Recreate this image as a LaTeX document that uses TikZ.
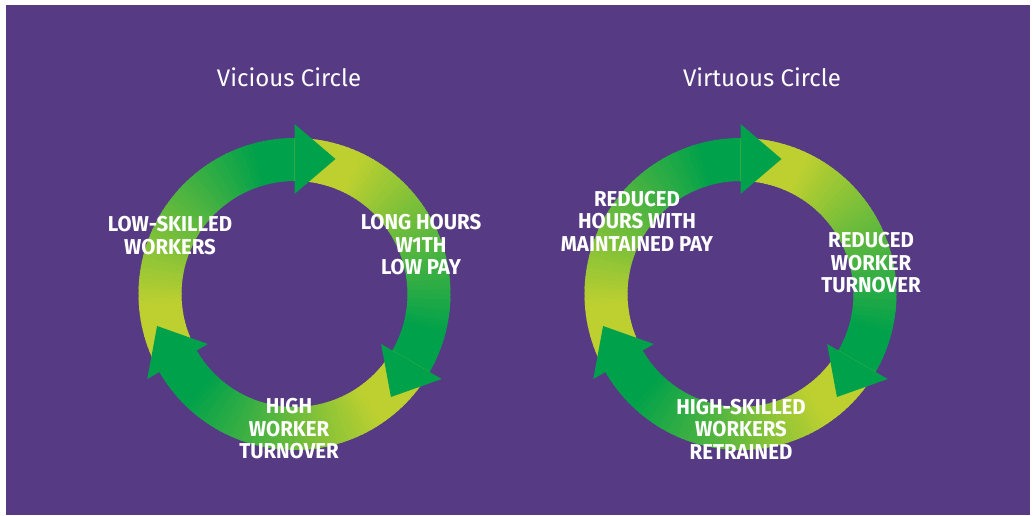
\documentclass[tikz,border=0pt]{standalone}
\usepackage{fontspec}
\setmainfont{Fira Sans}
\newfontfamily\ringfont[FakeStretch=0.95]{Fira Sans}
\usepackage{xcolor}
\definecolor{bgpurple}{RGB}{86,58,132}
\definecolor{ringgreen}{RGB}{0,161,75}
\definecolor{ringyellow}{RGB}{190,208,48}
\tikzset{
        ringtitle/.style={text=white,font=\fontsize{24}{28}\selectfont},
        ringlabel/.style={text=white,align=center,font=\ringfont\bfseries\fontsize{21.5}{22.5}\selectfont}
    }

\begin{document}
\begin{tikzpicture}[x=1pt,y=1pt]
            \fill[white] (0,0) rectangle (1033,515);
            \fill[bgpurple] (6,0) rectangle (1030,510);
            \foreach \cx in {294.5,740.5}{
              \foreach \a in {210,90,-30}{
                \foreach \i in {0,...,59}{
                  \pgfmathtruncatemacro\t{max(0,min(100,(\i-12)*100/40))}
                  \pgfmathsetmacro\b{\a-2*\i}
                  \pgfmathsetmacro\e{\a-2*\i-2.6}
                  \fill[ringgreen!\t!ringyellow,shift={(\cx,221)}] (\b:113) arc[start angle=\b,end angle=\e,radius=113] -- (\e:156) arc[start angle=\e,end angle=\b,radius=156] -- cycle;
                }
              }
              \foreach \a in {90,-30,210}
                \fill[ringgreen,shift={(\cx,221)},rotate=\a-90] (0,100) -- (0,170) -- (41,135) -- cycle;
            }
            \node[ringtitle] (vtitle) at (289,438) {Vicious Circle};
            \node[ringlabel] (vlow) at (170,279.5) {LOW-SKILLED\\WORKERS};
            \node[ringlabel] (vlong) at (421,270) {LONG HOURS\\W1TH\\LOW PAY};
            \node[ringlabel] (vhigh) at (289,86) {HIGH\\WORKER\\TURNOVER};
            \node[ringtitle] (rtitle) at (762,438) {Virtuous Circle};
            \node[ringlabel] (rhours) at (637,294) {REDUCED\\HOURS WITH\\MAINTAINED PAY};
            \node[ringlabel] (rturn) at (871,252) {REDUCED\\WORKER\\TURNOVER};
            \node[ringlabel] (rskill) at (741,86) {HIGH-SKILLED\\WORKERS\\RETRAINED};
          \end{tikzpicture}
\end{document}
